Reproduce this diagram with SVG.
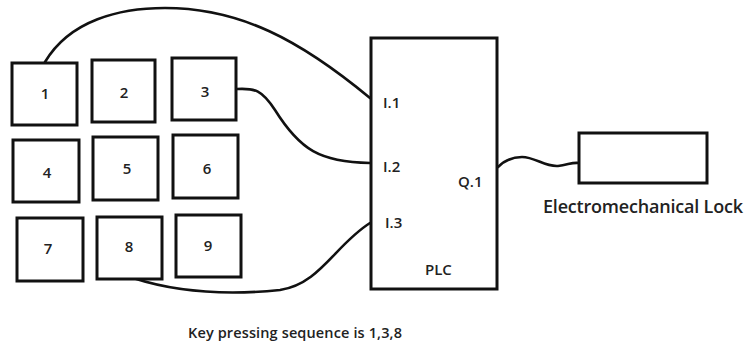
<svg xmlns="http://www.w3.org/2000/svg" width="746" height="354" viewBox="0 0 746 354">
<style>
.box{fill:#fff;stroke:#111;stroke-width:3}
.wire{fill:none;stroke:#111;stroke-width:2.6;stroke-linecap:round}
text{font-family:"Open Sans","Liberation Sans",sans-serif;fill:#222;font-weight:600}
.k{font-size:15px;text-anchor:middle}
.p{font-size:15px}
.lbl{font-size:18px}
.cap{font-size:14.5px}
</style>
<rect width="746" height="354" fill="#fff"/>
<g id="connectors">
<path class="wire" d="M45,62 C70,20 120,8 165,8 C240,8 300,40 370,98"/>
<path class="wire" d="M237,89 C255,88 262,90 275,110 C300,150 320,162 370,163"/>
<path class="wire" d="M133,278 C170,290 220,296 280,290 C320,284 335,245 370,223"/>
<path class="wire" d="M498,167 C505,160 512,157 522,157 C535,157 545,167 558,166 C568,165 572,162 579,163"/>
</g>
<g id="key1"><rect class="box" x="12" y="63" width="65" height="62"/><text class="k" x="45" y="99">1</text></g>
<g id="key2"><rect class="box" x="92" y="60" width="63" height="62"/><text class="k" x="124" y="98">2</text></g>
<g id="key3"><rect class="box" x="172" y="58" width="64" height="62"/><text class="k" x="205" y="97">3</text></g>
<g id="key4"><rect class="box" x="13" y="140" width="66" height="62"/><text class="k" x="47" y="178">4</text></g>
<g id="key5"><rect class="box" x="93" y="137" width="65" height="63"/><text class="k" x="127" y="174">5</text></g>
<g id="key6"><rect class="box" x="173" y="135" width="65" height="63"/><text class="k" x="207" y="174">6</text></g>
<g id="key7"><rect class="box" x="17" y="218" width="66" height="63"/><text class="k" x="48" y="254">7</text></g>
<g id="key8"><rect class="box" x="97" y="217" width="65" height="62"/><text class="k" x="129" y="252">8</text></g>
<g id="key9"><rect class="box" x="176" y="215" width="65" height="62"/><text class="k" x="208" y="251">9</text></g>
<g id="plc"><rect class="box" x="371" y="38" width="126" height="251"/>
<text class="p" x="383" y="108">I.1</text>
<text class="p" x="383" y="172">I.2</text>
<text class="p" x="385" y="228">I.3</text>
<text class="p" x="458" y="187">Q.1</text>
<text class="p" x="425" y="275">PLC</text></g>
<g id="lock"><rect class="box" x="579" y="133" width="128" height="50"/>
<text class="lbl" x="543" y="213" textLength="200" lengthAdjust="spacing">Electromechanical Lock</text></g>
<text class="cap" x="188" y="338" textLength="214" lengthAdjust="spacing">Key pressing sequence is 1,3,8</text>
</svg>
